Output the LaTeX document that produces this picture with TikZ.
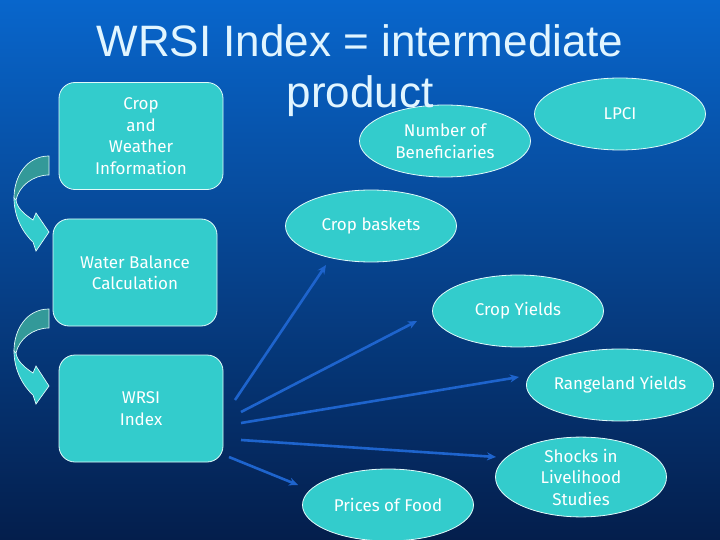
\documentclass[tikz,border=0pt]{standalone}
\usepackage{fontspec}
\setmainfont{Liberation Sans}
\newfontfamily\firafamily{Fira Sans}
\usetikzlibrary{shapes.geometric, arrows.meta}

\definecolor{boxcyan}{RGB}{51,204,204}
\definecolor{rimwhite}{RGB}{225,250,250}
\definecolor{flowblue}{RGB}{30,100,205}
\definecolor{ribbondark}{RGB}{51,153,153}
\definecolor{titletext}{RGB}{225,245,255}
\definecolor{skytop}{RGB}{8,102,204}
\definecolor{skymid}{RGB}{6,68,150}
\definecolor{skybottom}{RGB}{4,30,76}

\newcommand{\slidefont}{\firafamily\fontsize{17}{21.5}\selectfont}

\begin{document}
\begin{tikzpicture}[x=1pt, y=-1pt,
  infobox/.style={draw=rimwhite, line width=0.8pt, fill=boxcyan, rounded corners=16pt,
    minimum width=164pt, minimum height=107pt, inner sep=0pt, align=center,
    text=white, font=\slidefont},
  outcome/.style={ellipse, draw=rimwhite, line width=0.8pt, fill=boxcyan,
    minimum width=171pt, minimum height=72pt, inner sep=0pt, align=center,
    text=white, font=\slidefont},
  flow/.style={flowblue, line width=2.6pt, -{Stealth[length=9pt, width=8pt]}},
  ribbon/.style={draw=rimwhite, line width=0.7pt}]

  % Background
  \shade[top color=skytop, middle color=skymid, bottom color=skybottom] (0,0) rectangle (720,540);
  \useasboundingbox (0,0) rectangle (720,540);

  % Boxes on the left
  \node[infobox] (cropinfo) at (141,136) {Crop\\and\\Weather\\Information};
  \node[infobox] (waterbal) at (135,272.5) {Water Balance\\Calculation};
  \node[infobox] (wrsi) at (141,408.5) {WRSI\\Index};

  % Products
  \node[outcome] (benef) at (445,141) {Number of\\Beneficiaries};
  \node[outcome] (lpci) at (620,114) {LPCI};
  \node[outcome] (baskets) at (371,226) {Crop baskets};
  \node[outcome] (yields) at (518,311) {Crop Yields};
  \node[outcome] (range) at (620,385) {Rangeland Yields};
  \node[outcome] (shocks) at (581,477) {Shocks in\\Livelihood\\Studies};
  \node[outcome] (prices) at (388,505) {Prices of Food};

  % Curved arrows between the boxes
  \begin{scope}[shift={(49,156)}]
    \filldraw[ribbon, fill=ribbondark] (0,0) .. controls (-22,0) and (-35,20) .. (-35,42)
      -- (-33,44) .. controls (-30,30) and (-16,19) .. (0,19) -- cycle;
    \filldraw[ribbon, fill=boxcyan] (-35,42) .. controls (-35,62) and (-25,78) .. (-16,86)
      -- (-13,95) -- (0,76) -- (-13,57) -- (-16,64)
      .. controls (-25,58) and (-32,52) .. (-33,44) -- cycle;
  \end{scope}
  \begin{scope}[shift={(49,309)}]
    \filldraw[ribbon, fill=ribbondark] (0,0) .. controls (-22,0) and (-35,20) .. (-35,42)
      -- (-33,44) .. controls (-30,30) and (-16,19) .. (0,19) -- cycle;
    \filldraw[ribbon, fill=boxcyan] (-35,42) .. controls (-35,62) and (-25,78) .. (-16,86)
      -- (-13,95) -- (0,77) -- (-13,57) -- (-16,64)
      .. controls (-25,58) and (-32,52) .. (-33,44) -- cycle;
  \end{scope}

  % Arrows from the index
  \coordinate (s1) at (235,400);
  \coordinate (e1) at (326,265);
  \coordinate (s2) at (241,412);
  \coordinate (e2) at (417,321);
  \coordinate (s3) at (241,423);
  \coordinate (e3) at (519,377);
  \coordinate (s4) at (241,440);
  \coordinate (e4) at (496,457);
  \coordinate (s5) at (229,457);
  \coordinate (e5) at (298,485);
  \draw[flow] (s1) -- (e1);
  \draw[flow] (s2) -- (e2);
  \draw[flow] (s3) -- (e3);
  \draw[flow] (s4) -- (e4);
  \draw[flow] (s5) -- (e5);

  % Title
  \node[text=titletext, font=\fontsize{44}{50}\selectfont, anchor=base, inner sep=0pt]
    (title) at (360,57) {WRSI Index = intermediate};
  \node[text=titletext, font=\fontsize{44}{50}\selectfont, anchor=base, inner sep=0pt]
    (titleprod) at (360,108) {product};
\end{tikzpicture}
\end{document}
